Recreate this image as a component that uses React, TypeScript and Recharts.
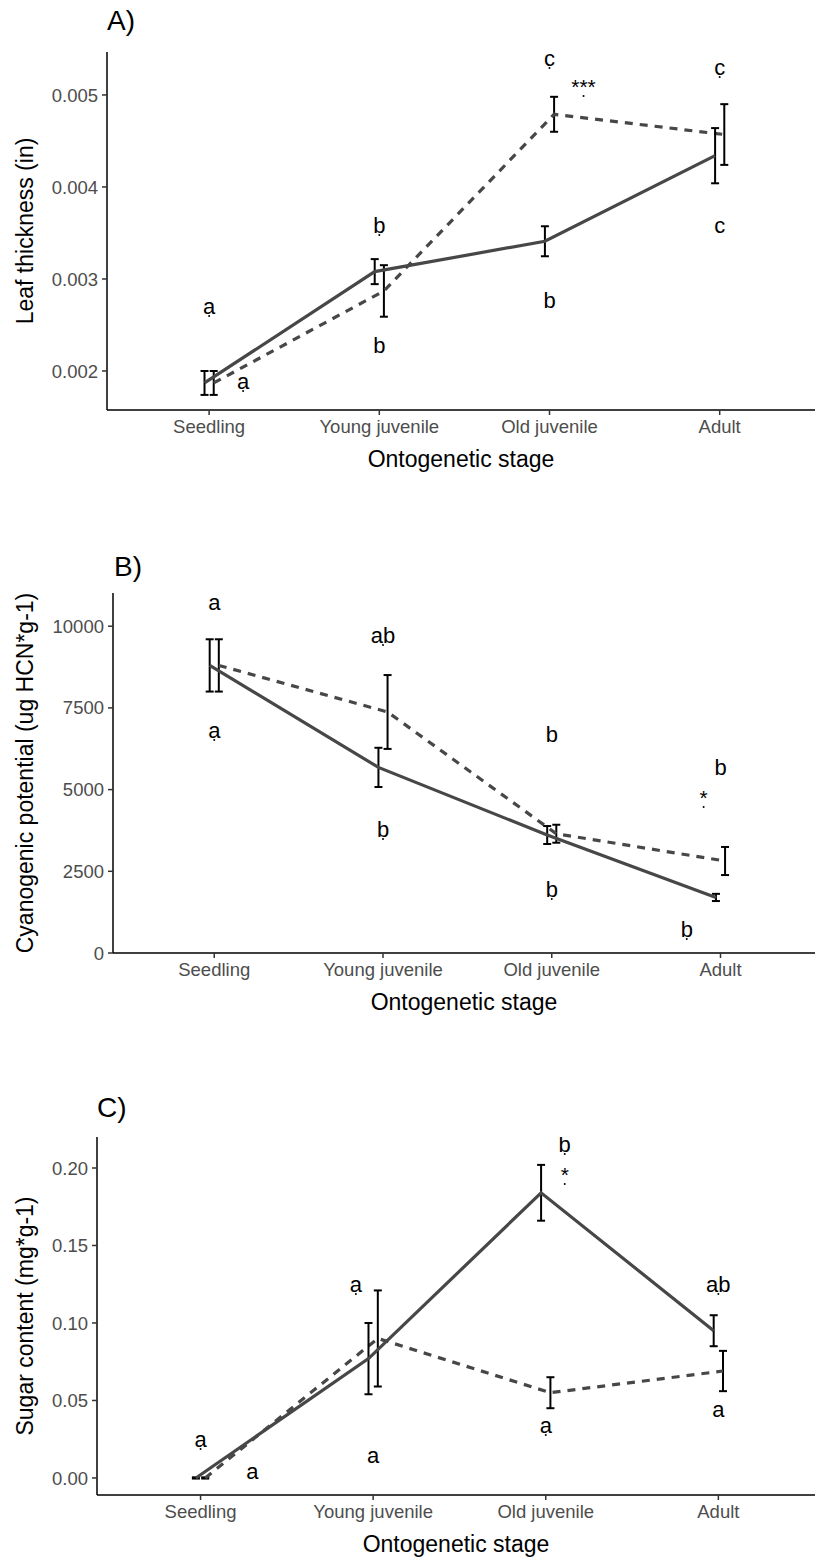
import React from 'react';
import { ComposedChart, Line, Scatter, XAxis, YAxis, ErrorBar } from 'recharts';

const stages = ['Seedling', 'Young juvenile', 'Old juvenile', 'Adult'];
const stageTicks = [0, 1, 2, 3];

// A) leaf thickness (in)
const thickSolid = [0.00187, 0.00308, 0.00341, 0.00434];
const thickSolidErr = [0.00013, 0.000136, 0.000163, 0.0003];
const thickDashed = [0.00187, 0.00287, 0.00479, 0.00457];
const thickDashedErr = [0.00013, 0.00028, 0.00019, 0.00033];
const thickNoteX = [0, 0.2, 1, 1, 2, 2.2, 2, 3, 3];
const thickNoteY = [0.00262, 0.001804, 0.0035, 0.002196, 0.005315, 0.005011, 0.002685, 0.005217, 0.0035];
const thickNoteText = ['a', 'a', 'b', 'b', 'c', '***', 'b', 'c', 'c'];
const thickNoteDot = [true, true, true, false, true, true, false, true, false];

// B) cyanogenic potential (ug HCN*g-1)
const cyanSolid = [8800, 5680, 3610, 1700];
const cyanSolidErr = [800, 600, 275, 110];
const cyanDashed = [8800, 7375, 3650, 2815];
const cyanDashedErr = [800, 1130, 275, 430];
const cyanNoteX = [0, 1, 0, 1, 2, 3, 2.9, 2, 2.8];
const cyanNoteY = [10496, 9486, 6579, 3550, 6457, 5447, 4529, 1714, 490];
const cyanNoteText = ['a', 'ab', 'a', 'b', 'b', 'b', '*', 'b', 'b'];
const cyanNoteDot = [false, true, true, true, false, false, true, true, true];

// C) sugar content (mg*g-1)
const sugarSolid = [0, 0.077, 0.184, 0.095];
const sugarSolidErr = [0.0004, 0.023, 0.018, 0.01];
const sugarDashed = [0, 0.09, 0.055, 0.069];
const sugarDashedErr = [0.0004, 0.031, 0.01, 0.013];
const sugarNoteX = [0, 0.3, 0.9, 1, 2.11, 2.11, 2, 3, 3];
const sugarNoteY = [0.02, -0.0006, 0.12, 0.0097, 0.2103, 0.191, 0.029, 0.12, 0.0393];
const sugarNoteText = ['a', 'a', 'a', 'a', 'b', '*', 'a', 'ab', 'a'];
const sugarNoteDot = [true, false, true, false, true, true, true, true, false];

const DODGE = 0.027;
const LINE = '#474747';
const FONT = '"Liberation Sans", Arial, sans-serif';

const series = (vals: number[], errs: number[], shift: number) =>
  vals.map((v, i) => ({ x: i + shift, y: v, err: errs[i] }));

const notes = (xs: number[], ys: number[], texts: string[], dots: boolean[]) =>
  xs.map((x, i) => ({ x, y: ys[i], text: texts[i], dot: dots[i] }));

const Note = (props: any) => {
  const { cx, cy, payload } = props;
  if (cx == null || cy == null) return null;
  const star = payload.text.includes('*');
  return (
    <g>
      <text x={cx} y={cy} textAnchor="middle" fontSize={star ? 21 : 22} fill="#000" fontFamily={FONT}>
        {payload.text}
      </text>
      {payload.dot && <circle cx={cx} cy={cy + 2} r={1} fill="#000" />}
    </g>
  );
};

type PanelProps = {
  title: string;
  titleLeft: number;
  titleTop: number;
  yLabel: string;
  top: number;
  height: number;
  marginTop: number;
  yWidth: number;
  xHeight: number;
  domain: [number, number];
  ticks: number[];
  fmt: (v: number) => string;
  solid: number[];
  solidErr: number[];
  dashed: number[];
  dashedErr: number[];
  noteData: { x: number; y: number; text: string; dot: boolean }[];
};

const Panel = (p: PanelProps) => (
  <>
    <div
      style={{
        position: 'absolute',
        left: p.titleLeft,
        top: p.titleTop,
        fontSize: 28,
        lineHeight: '28px',
        fontFamily: FONT,
        color: '#000',
      }}
    >
      {p.title}
    </div>
    <div style={{ position: 'absolute', left: 0, top: p.top, width: 815, height: p.height, fontFamily: FONT }}>
      <ComposedChart width={815} height={p.height} margin={{ top: p.marginTop, right: 0, bottom: 0, left: 0 }}>
        <XAxis
          type="number"
          dataKey="x"
          domain={[-0.6, 3.56]}
          ticks={stageTicks}
          allowDataOverflow
          interval={0}
          tickFormatter={(i: number) => stages[i]}
          height={p.xHeight}
          tickSize={5}
          tickMargin={5}
          axisLine={{ stroke: '#000', strokeWidth: 1.5 }}
          tickLine={{ stroke: '#333', strokeWidth: 1.5 }}
          tick={{ fontSize: 18.5, fill: '#4d4d4d' }}
          label={{ value: 'Ontogenetic stage', position: 'insideBottom', offset: p.xHeight - 57, style: { fontSize: 23, fill: '#000' } }}
        />
        <YAxis
          type="number"
          domain={p.domain}
          ticks={p.ticks}
          allowDataOverflow
          interval={0}
          tickFormatter={p.fmt}
          width={p.yWidth}
          tickSize={5}
          tickMargin={4}
          axisLine={{ stroke: '#000', strokeWidth: 1.5 }}
          tickLine={{ stroke: '#333', strokeWidth: 1.5 }}
          tick={{ fontSize: 18.5, fill: '#4d4d4d' }}
          label={{ value: p.yLabel, angle: -90, position: 'insideLeft', offset: 25, style: { fontSize: 23, fill: '#000', textAnchor: 'middle' } }}
        />
        <Line
          data={series(p.dashed, p.dashedErr, DODGE)}
          dataKey="y"
          type="linear"
          stroke={LINE}
          strokeWidth={3.2}
          strokeDasharray="8 7"
          dot={false}
          activeDot={false}
          isAnimationActive={false}
        >
          <ErrorBar dataKey="err" direction="y" width={4} stroke="#000" strokeWidth={2} />
        </Line>
        <Line
          data={series(p.solid, p.solidErr, -DODGE)}
          dataKey="y"
          type="linear"
          stroke={LINE}
          strokeWidth={3.2}
          dot={false}
          activeDot={false}
          isAnimationActive={false}
        >
          <ErrorBar dataKey="err" direction="y" width={4} stroke="#000" strokeWidth={2} />
        </Line>
        <Scatter data={p.noteData} dataKey="y" shape={Note} isAnimationActive={false} />
      </ComposedChart>
    </div>
  </>
);

export default function App() {
  return (
    <div style={{ position: 'absolute', left: 0, top: 0, width: 815, height: 1560, background: '#fff' }}>
      <Panel
        title="A)"
        titleLeft={107}
        titleTop={7}
        yLabel="Leaf thickness (in)"
        top={0}
        height={480}
        marginTop={52}
        yWidth={107}
        xHeight={70}
        domain={[0.001576, 0.005467]}
        ticks={[0.002, 0.003, 0.004, 0.005]}
        fmt={(v) => v.toFixed(3)}
        solid={thickSolid}
        solidErr={thickSolidErr}
        dashed={thickDashed}
        dashedErr={thickDashedErr}
        noteData={notes(thickNoteX, thickNoteY, thickNoteText, thickNoteDot)}
      />
      <Panel
        title="B)"
        titleLeft={114}
        titleTop={553}
        yLabel="Cyanogenic potential (ug HCN*g-1)"
        top={520}
        height={503}
        marginTop={73}
        yWidth={113}
        xHeight={70}
        domain={[0, 11016]}
        ticks={[0, 2500, 5000, 7500, 10000]}
        fmt={(v) => String(v)}
        solid={cyanSolid}
        solidErr={cyanSolidErr}
        dashed={cyanDashed}
        dashedErr={cyanDashedErr}
        noteData={notes(cyanNoteX, cyanNoteY, cyanNoteText, cyanNoteDot)}
      />
      <Panel
        title="C)"
        titleLeft={97}
        titleTop={1094}
        yLabel="Sugar content (mg*g-1)"
        top={1060}
        height={500}
        marginTop={77}
        yWidth={97}
        xHeight={65}
        domain={[-0.011, 0.22]}
        ticks={[0, 0.05, 0.1, 0.15, 0.2]}
        fmt={(v) => v.toFixed(2)}
        solid={sugarSolid}
        solidErr={sugarSolidErr}
        dashed={sugarDashed}
        dashedErr={sugarDashedErr}
        noteData={notes(sugarNoteX, sugarNoteY, sugarNoteText, sugarNoteDot)}
      />
    </div>
  );
}
